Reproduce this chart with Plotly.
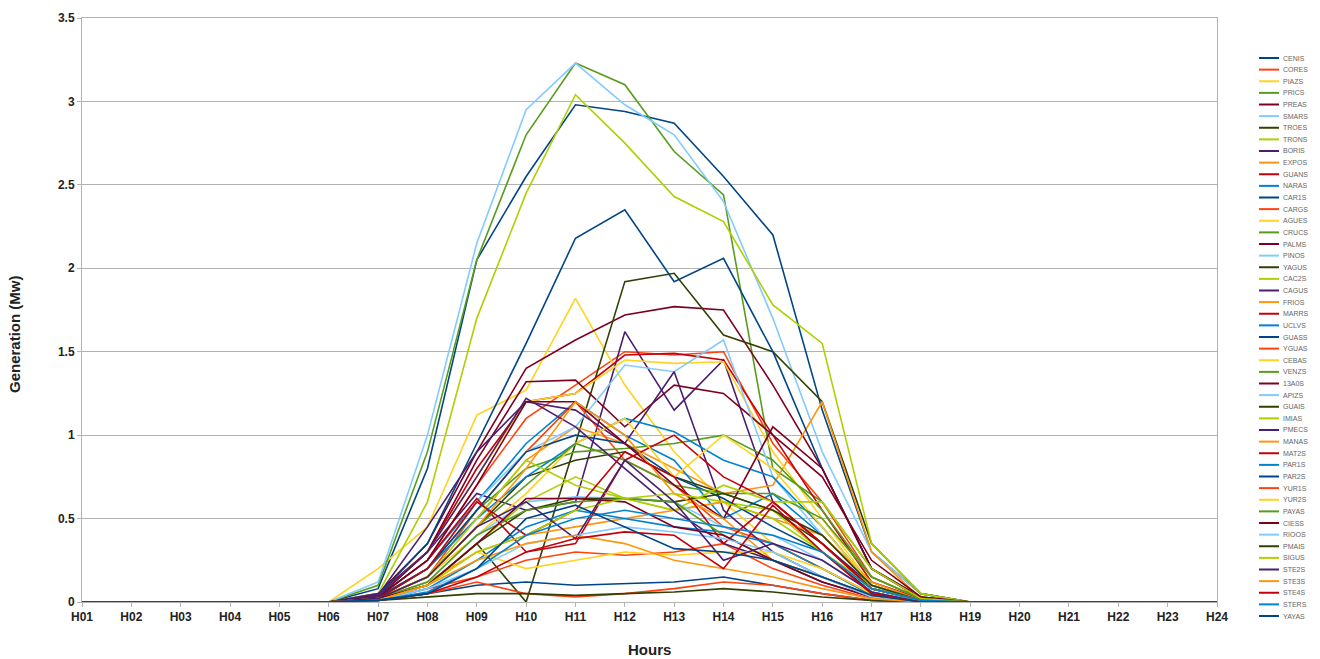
import plotly.graph_objects as go

hours = ["H%02d" % i for i in range(1, 25)]

names = ["CENIS","CORES","PIAZS","PRICS","PREAS","SMARS","TROES","TRONS","BORIS","EXPOS",
         "GUANS","NARAS","CAR1S","CARGS","AGUES","CRUCS","PALMS","PINOS","YAGUS","CAC2S",
         "CAGUS","FRIOS","MARRS","UCLVS","GUASS","YGUAS","CEBAS","VENZS","13A0S","APIZS",
         "GUAIS","IMIAS","PMECS","MANAS","MAT2S","PAR1S","PAR2S","YUR1S","YUR2S","PAYAS",
         "CIESS","RIOOS","PMAIS","SIGUS","STE2S","STE3S","STE4S","STERS","YAYAS"]

palette = ["#004586","#ff420e","#ffd320","#579d1c","#7e0021","#83caff",
           "#314004","#aecf00","#4b1f6f","#ff950e","#c5000b","#0084d1"]

Z = [0, 0, 0, 0, 0, 0]          # H01-H06
T = [0, 0, 0, 0, 0]             # H20-H24

CENIS = Z + [0.08, 0.8, 2.05, 2.55, 2.98, 2.94, 2.87, 2.55, 2.2, 1.15, 0.3, 0.05, 0] + T
CORES = Z + [0.03, 0.25, 0.7, 1.1, 1.3, 1.5, 1.48, 1.5, 0.95, 0.6, 0.15, 0.02, 0] + T
PIAZS = Z + [0.2, 0.45, 1.12, 1.27, 1.82, 1.3, 0.9, 0.6, 0.35, 0.2, 0.05, 0, 0] + T
PRICS = Z + [0.1, 0.9, 2.05, 2.8, 3.23, 3.1, 2.7, 2.44, 0.8, 0.6, 0.2, 0.03, 0] + T
PREAS = Z + [0.05, 0.35, 0.9, 1.4, 1.57, 1.72, 1.77, 1.75, 1.3, 0.8, 0.2, 0.03, 0] + T
SMARS = Z + [0.12, 1.0, 2.15, 2.95, 3.23, 2.98, 2.8, 2.4, 1.7, 0.9, 0.3, 0.05, 0] + T
TROES = Z + [0.02, 0.1, 0.35, 0.0, 0.95, 1.92, 1.97, 1.6, 1.5, 1.2, 0.35, 0.05, 0] + T
TRONS = Z + [0.05, 0.6, 1.7, 2.45, 3.04, 2.75, 2.43, 2.28, 1.78, 1.55, 0.35, 0.05, 0] + T
BORIS = Z + [0.05, 0.3, 0.65, 0.55, 0.6, 1.62, 1.15, 1.45, 0.6, 0.35, 0.1, 0.01, 0] + T
EXPOS = Z + [0.03, 0.2, 0.5, 0.85, 1.05, 0.95, 0.8, 0.65, 0.7, 1.2, 0.3, 0.02, 0] + T
GUANS = Z + [0.04, 0.3, 0.8, 1.2, 1.25, 1.48, 1.49, 1.45, 1.0, 0.55, 0.12, 0.02, 0] + T
NARAS = Z + [0.03, 0.25, 0.6, 0.95, 1.2, 1.0, 0.85, 0.5, 0.65, 0.4, 0.1, 0.01, 0] + T
CAR1S = Z + [0.04, 0.35, 0.95, 1.55, 2.18, 2.35, 1.92, 2.06, 1.5, 0.8, 0.2, 0.02, 0] + T
CARGS = Z + [0.02, 0.15, 0.55, 0.9, 1.2, 0.85, 0.7, 0.45, 0.35, 0.2, 0.05, 0, 0] + T
AGUES = Z + [0.03, 0.3, 0.75, 1.2, 1.25, 1.45, 1.43, 1.44, 0.9, 0.5, 0.1, 0.01, 0] + T
CRUCS = Z + [0.02, 0.2, 0.55, 0.8, 0.9, 0.92, 0.95, 1.0, 0.85, 0.55, 0.15, 0.02, 0] + T
PALMS = Z + [0.03, 0.3, 0.85, 1.32, 1.33, 1.05, 1.3, 1.25, 1.0, 0.75, 0.25, 0.03, 0] + T
PINOS = Z + [0.03, 0.2, 0.6, 0.9, 1.05, 1.42, 1.38, 1.57, 0.75, 0.4, 0.1, 0.01, 0] + T
YAGUS = Z + [0.02, 0.15, 0.45, 0.75, 0.85, 0.9, 0.75, 0.65, 0.55, 0.35, 0.08, 0.01, 0] + T
CAC2S = Z + [0.02, 0.1, 0.35, 0.6, 0.75, 0.62, 0.55, 0.6, 0.55, 0.3, 0.1, 0.01, 0] + T
CAGUS = Z + [0.04, 0.45, 0.9, 1.2, 1.15, 0.95, 1.38, 0.55, 0.3, 0.15, 0.04, 0, 0] + T
FRIOS = Z + [0.02, 0.12, 0.3, 0.4, 0.45, 0.5, 0.55, 0.6, 0.5, 0.4, 0.12, 0.01, 0] + T
MARRS = Z + [0.03, 0.25, 0.62, 0.3, 0.35, 0.85, 1.0, 0.75, 0.6, 0.35, 0.08, 0.01, 0] + T
UCLVS = Z + [0.02, 0.2, 0.5, 0.75, 0.95, 1.1, 1.02, 0.85, 0.75, 0.45, 0.1, 0.01, 0] + T
GUASS = Z + [0.03, 0.2, 0.55, 0.9, 1.0, 0.95, 0.75, 0.62, 0.45, 0.3, 0.06, 0, 0] + T
YGUAS = Z + [0.01, 0.08, 0.15, 0.25, 0.3, 0.28, 0.3, 0.35, 0.2, 0.1, 0.02, 0, 0] + T
CEBAS = Z + [0.02, 0.15, 0.4, 0.65, 0.95, 1.1, 0.75, 1.0, 0.8, 0.45, 0.1, 0.01, 0] + T
VENZS = Z + [0.02, 0.15, 0.45, 0.7, 0.95, 0.85, 0.7, 0.65, 0.65, 0.5, 0.15, 0.02, 0] + T
S13A0S = Z + [0.03, 0.25, 0.7, 1.2, 1.2, 0.95, 0.7, 0.5, 1.05, 0.8, 0.2, 0.02, 0] + T
APIZS = Z + [0.02, 0.12, 0.4, 0.6, 0.63, 0.62, 0.6, 0.45, 0.4, 0.25, 0.06, 0, 0] + T
GUAIS = Z + [0.02, 0.1, 0.35, 0.55, 0.62, 0.62, 0.6, 0.65, 0.55, 0.4, 0.1, 0.01, 0] + T
IMIAS = Z + [0.02, 0.15, 0.5, 0.85, 0.7, 0.62, 0.55, 0.7, 0.6, 0.6, 0.2, 0.02, 0] + T
PMECS = Z + [0.03, 0.3, 0.75, 1.22, 1.05, 0.8, 0.55, 0.35, 0.25, 0.12, 0.03, 0, 0] + T
MANAS = Z + [0.02, 0.15, 0.45, 0.8, 1.2, 1.0, 0.65, 0.5, 0.25, 0.15, 0.03, 0, 0] + T
MAT2S = Z + [0.02, 0.2, 0.6, 0.4, 0.55, 0.9, 0.75, 0.35, 0.6, 0.35, 0.08, 0.01, 0] + T
PAR1S = Z + [0.01, 0.08, 0.25, 0.45, 0.55, 0.5, 0.45, 0.42, 0.35, 0.2, 0.04, 0, 0] + T
PAR2S = Z + [0.01, 0.05, 0.1, 0.12, 0.1, 0.11, 0.12, 0.15, 0.1, 0.05, 0.01, 0, 0] + T
YUR1S = Z + [0.01, 0.05, 0.12, 0.05, 0.03, 0.05, 0.08, 0.12, 0.1, 0.05, 0.01, 0, 0] + T
YUR2S = Z + [0.02, 0.1, 0.3, 0.2, 0.25, 0.3, 0.28, 0.3, 0.3, 0.2, 0.05, 0, 0] + T
PAYAS = Z + [0.02, 0.12, 0.4, 0.55, 0.6, 0.62, 0.6, 0.4, 0.25, 0.15, 0.04, 0, 0] + T
CIESS = Z + [0.02, 0.1, 0.35, 0.62, 0.62, 0.6, 0.45, 0.4, 0.25, 0.12, 0.03, 0, 0] + T
RIOOS = Z + [0.01, 0.08, 0.2, 0.35, 0.4, 0.45, 0.42, 0.38, 0.3, 0.15, 0.03, 0, 0] + T
PMAIS = Z + [0.01, 0.03, 0.05, 0.05, 0.04, 0.05, 0.06, 0.08, 0.06, 0.03, 0.01, 0, 0] + T
SIGUS = Z + [0.01, 0.1, 0.3, 0.4, 0.55, 0.62, 0.65, 0.6, 0.5, 0.3, 0.08, 0.01, 0] + T
STE2S = Z + [0.02, 0.15, 0.45, 0.6, 0.38, 0.85, 0.6, 0.25, 0.35, 0.25, 0.06, 0, 0] + T
STE3S = Z + [0.01, 0.1, 0.25, 0.35, 0.4, 0.35, 0.25, 0.2, 0.15, 0.08, 0.02, 0, 0] + T
STE4S = Z + [0.01, 0.05, 0.15, 0.3, 0.38, 0.42, 0.4, 0.2, 0.58, 0.3, 0.05, 0, 0] + T
STERS = Z + [0.01, 0.06, 0.2, 0.4, 0.5, 0.55, 0.5, 0.45, 0.4, 0.3, 0.08, 0.01, 0] + T
YAYAS = Z + [0.01, 0.05, 0.2, 0.5, 0.58, 0.45, 0.32, 0.3, 0.25, 0.15, 0.04, 0, 0] + T

series = [CENIS, CORES, PIAZS, PRICS, PREAS, SMARS, TROES, TRONS, BORIS, EXPOS,
          GUANS, NARAS, CAR1S, CARGS, AGUES, CRUCS, PALMS, PINOS, YAGUS, CAC2S,
          CAGUS, FRIOS, MARRS, UCLVS, GUASS, YGUAS, CEBAS, VENZS, S13A0S, APIZS,
          GUAIS, IMIAS, PMECS, MANAS, MAT2S, PAR1S, PAR2S, YUR1S, YUR2S, PAYAS,
          CIESS, RIOOS, PMAIS, SIGUS, STE2S, STE3S, STE4S, STERS, YAYAS]

W, H = 1320, 659
L, R, TOP, BOT = 82, 1217, 18, 602
pw, ph = R - L, BOT - TOP

def px(p):   # page x pixel -> paper
    return (p - L) / pw

def py(p):   # page y pixel -> paper
    return (BOT - p) / ph

fig = go.Figure()
for i, (nm, vals) in enumerate(zip(names, series)):
    fig.add_trace(go.Scatter(x=hours, y=vals, mode="lines", name=nm,
                             line=dict(color=palette[i % 12], width=1.6),
                             showlegend=False))

# manual legend (plotly's built-in legend cannot pack 49 items this tightly)
shapes, annots = [], []
y0, y1 = 58, 616
step = (y1 - y0) / (len(names) - 1)
for i, nm in enumerate(names):
    yp = py(y0 + i * step)
    shapes.append(dict(type="line", xref="paper", yref="paper",
                       x0=px(1259), x1=px(1279), y0=yp, y1=yp,
                       line=dict(color=palette[i % 12], width=2)))
    annots.append(dict(xref="paper", yref="paper", x=px(1281), y=yp,
                       text=nm, showarrow=False, xanchor="left", yanchor="middle",
                       font=dict(family="Liberation Sans", size=7, color="#666666")))

annots.append(dict(xref="paper", yref="paper", x=px(15), y=py(334),
                   text="<b>Generation (Mw)</b>", textangle=-90, showarrow=False,
                   xanchor="center", yanchor="middle",
                   font=dict(family="Liberation Sans", size=15, color="#222222")))
annots.append(dict(xref="paper", yref="paper", x=px(649), y=py(650),
                   text="<b>Hours</b>", showarrow=False,
                   xanchor="center", yanchor="middle",
                   font=dict(family="Liberation Sans", size=15, color="#222222")))

fig.update_layout(
    width=W, height=H,
    margin=dict(l=L, r=W - R, t=TOP, b=H - BOT),
    paper_bgcolor="white", plot_bgcolor="white",
    showlegend=False,
    shapes=shapes, annotations=annots,
    font=dict(family="Liberation Sans", color="#222222"),
    xaxis=dict(type="category", range=[0, 23], showgrid=False,
               showline=True, linecolor="#b3b3b3", mirror=True,
               ticks="outside", ticklen=4, tickcolor="#b3b3b3",
               tickprefix="<b>", ticksuffix="</b>",
               tickfont=dict(size=12, family="Liberation Sans", color="#222222")),
    yaxis=dict(range=[0, 3.5], dtick=0.5, showgrid=True, gridcolor="#b3b3b3",
               showline=True, linecolor="#b3b3b3", mirror=True, zeroline=False,
               ticks="outside", ticklen=4, tickcolor="#b3b3b3",
               tickprefix="<b>", ticksuffix="</b>",
               tickfont=dict(size=12, family="Liberation Sans", color="#222222")),
)

fig.write_html("out.html", config={"displayModeBar": False},
               post_script="document.body.style.margin='0';document.body.style.overflow='hidden';")
